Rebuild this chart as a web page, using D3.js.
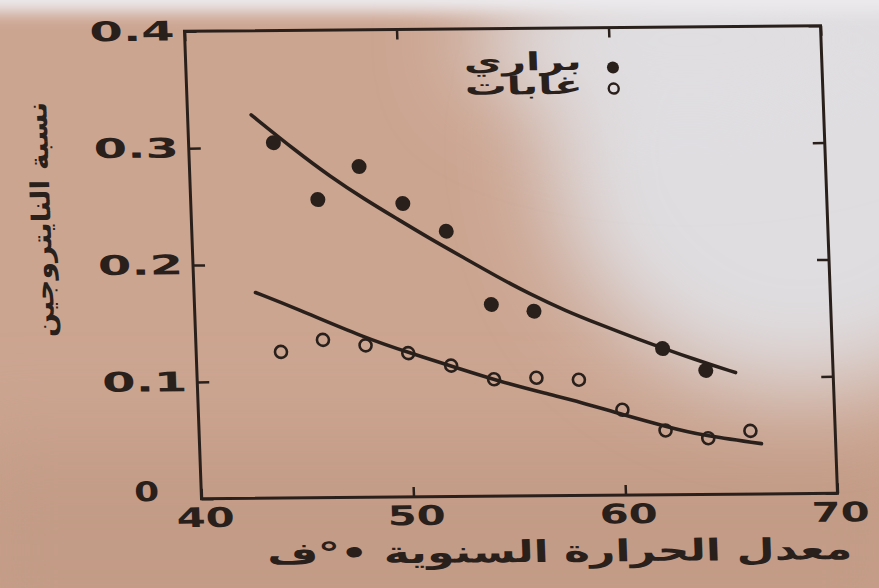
<!DOCTYPE html>
<html>
<head>
<meta charset="utf-8">
<script src="https://cdn.jsdelivr.net/npm/d3@7"></script>
<style>
  html, body { margin: 0; padding: 0; background: #cda895; }
  svg { display: block; }
</style>
</head>
<body>
<svg id="chart" width="879" height="588"></svg>
<script>
// Nitrogen share of soil against mean annual temperature (°F)
const prairieTemp = [44, 46, 48, 50, 52, 54, 56, 62, 64];
const prairieN    = [0.304, 0.255, 0.283, 0.251, 0.227, 0.164, 0.158, 0.125, 0.106];
const forestTemp  = [44, 46, 48, 50, 52, 54, 56, 58, 60, 62, 64, 66];
const forestN     = [0.125, 0.135, 0.130, 0.123, 0.112, 0.100, 0.101, 0.099, 0.073, 0.055, 0.048, 0.054];

// Hand-drawn trend curves
const prairieFitTemp = [43.0, 45.1, 46.6, 48.2, 49.7, 51.2, 52.8, 54.3, 55.8, 57.5, 59.1, 60.6, 63.7, 65.4];
const prairieFitN    = [0.328, 0.296, 0.275, 0.255, 0.238, 0.221, 0.204, 0.188, 0.173, 0.158, 0.146, 0.135, 0.114, 0.104];
const forestFitTemp  = [42.9, 44.8, 47.9, 50.1, 52.6, 54.1, 56.5, 58.0, 60.0, 62.1, 63.6, 66.5];
const forestFitN     = [0.176, 0.162, 0.137, 0.123, 0.108, 0.099, 0.087, 0.080, 0.069, 0.058, 0.051, 0.043];

const xTicks = [40, 50, 60, 70];
const yTicks = [0, 0.1, 0.2, 0.3, 0.4];
const legendLabels = ["براري", "غابات"];
const xTitle = "معدل الحرارة السنوية •°ف";
const yTitle = "نسبة النايتروجين";

const ink = "#2a201b";
const W = 636, H = 467.5;

const svg = d3.select("#chart");
const defs = svg.append("defs");
defs.append("filter").attr("id", "soft").attr("filterUnits", "userSpaceOnUse")
  .attr("x", -300).attr("y", -300).attr("width", 1500).attr("height", 1200)
  .append("feGaussianBlur").attr("stdDeviation", 45);
defs.append("filter").attr("id", "softer").attr("filterUnits", "userSpaceOnUse")
  .attr("x", -300).attr("y", -300).attr("width", 1500).attr("height", 1200)
  .append("feGaussianBlur").attr("stdDeviation", 8);

// paper background
const bg = svg.append("g");
bg.append("rect").attr("width", 879).attr("height", 588).attr("fill", "#cca591");
bg.append("rect").attr("x", -50).attr("y", 440).attr("width", 980).attr("height", 220).attr("fill", "#c39b86").attr("filter", "url(#soft)");
bg.append("ellipse").attr("cx", 800).attr("cy", 150).attr("rx", 250).attr("ry", 240).attr("fill", "#dfdde0").attr("filter", "url(#soft)");
bg.append("ellipse").attr("cx", 690).attr("cy", 40).attr("rx", 220).attr("ry", 80).attr("fill", "#e0dee1").attr("filter", "url(#soft)");
bg.append("rect").attr("x", -50).attr("y", -40).attr("width", 980).attr("height", 52).attr("fill", "#eceaed").attr("filter", "url(#softer)");

const x = d3.scaleLinear().domain([40, 70]).range([0, W]);
const y = d3.scaleLinear().domain([0, 0.4]).range([H, 0]);

// slightly sheared plotting plane
const g = svg.append("g").attr("transform", "matrix(1,-0.00865,0.03636,1,184.5,31.25)");

const tickFont = t => t.attr("font-family", "DejaVu Sans").attr("font-weight", "bold")
  .attr("font-size", 27).attr("fill", ink);

const axisLeftG = g.append("g").call(
  d3.axisLeft(y).tickValues(yTicks).tickSizeInner(-12).tickSizeOuter(0).tickPadding(10)
    .tickFormat(d => d === 0 ? "0" : d3.format(".1f")(d)));
const axisBottomG = g.append("g").attr("transform", `translate(0,${H})`).call(
  d3.axisBottom(x).tickValues(xTicks).tickSizeInner(-10).tickSizeOuter(0).tickPadding(9));
const axisTopG = g.append("g").call(
  d3.axisTop(x).tickValues(xTicks).tickSizeInner(-10).tickSizeOuter(0).tickFormat(""));
const axisRightG = g.append("g").attr("transform", `translate(${W},0)`).call(
  d3.axisRight(y).tickValues(yTicks).tickSizeInner(-12).tickSizeOuter(0).tickFormat(""));

[axisLeftG, axisBottomG, axisTopG, axisRightG].forEach(a => {
  a.select(".domain").remove();
  a.selectAll(".tick line").attr("stroke", ink).attr("stroke-width", 2.5);
  a.selectAll(".tick text").call(tickFont);
});
axisLeftG.selectAll(".tick text")
  .attr("textLength", d => d === 0 ? 25 : 85).attr("lengthAdjust", "spacingAndGlyphs")
  .attr("dx", d => d === 0 ? -32 : 0)
  .attr("dy", d => d === 0 ? "0.05em" : "0.32em");
axisBottomG.selectAll(".tick text")
  .attr("textLength", 58).attr("lengthAdjust", "spacingAndGlyphs")
  .attr("dx", d => d === 40 ? 3 : 2);

// frame
g.append("rect").attr("x", x(40)).attr("y", y(0.4)).attr("width", x(70) - x(40)).attr("height", y(0) - y(0.4))
  .attr("fill", "none").attr("stroke", ink).attr("stroke-width", 3);

// trend curves
const line = d3.line().x(d => x(d[0])).y(d => y(d[1])).curve(d3.curveBasis);
g.append("path").datum(d3.zip(prairieFitTemp, prairieFitN)).attr("d", line)
  .attr("fill", "none").attr("stroke", ink).attr("stroke-width", 3.6).attr("stroke-linecap", "round");
g.append("path").datum(d3.zip(forestFitTemp, forestFitN)).attr("d", line)
  .attr("fill", "none").attr("stroke", ink).attr("stroke-width", 3.6).attr("stroke-linecap", "round");

// observations
g.append("g").selectAll("circle").data(d3.zip(prairieTemp, prairieN)).join("circle")
  .attr("cx", d => x(d[0])).attr("cy", d => y(d[1])).attr("r", 7.5).attr("fill", ink);
g.append("g").selectAll("circle").data(d3.zip(forestTemp, forestN)).join("circle")
  .attr("cx", d => x(d[0])).attr("cy", d => y(d[1])).attr("r", 6).attr("fill", "none")
  .attr("stroke", ink).attr("stroke-width", 2.6);

// legend
const leg = g.append("g").attr("transform", "translate(427,40)");
leg.append("circle").attr("cx", 0).attr("cy", 0).attr("r", 6).attr("fill", ink);
leg.append("circle").attr("cx", 0).attr("cy", 21).attr("r", 5).attr("fill", "none").attr("stroke", ink).attr("stroke-width", 2.4);
leg.selectAll("text").data(legendLabels).join("text")
  .attr("x", -31).attr("y", (d, i) => i * 24 + 2)
  .attr("text-anchor", "start").attr("direction", "rtl")
  .attr("textLength", 118).attr("lengthAdjust", "spacingAndGlyphs")
  .attr("font-family", "DejaVu Sans").attr("font-weight", "bold").attr("font-size", 25).attr("fill", ink)
  .text(d => d);

// axis titles
g.append("text").attr("x", x(55) + 38).attr("y", H + 66)
  .attr("text-anchor", "middle").attr("direction", "rtl")
  .attr("textLength", 585).attr("lengthAdjust", "spacingAndGlyphs")
  .attr("font-family", "DejaVu Sans").attr("font-weight", "bold").attr("font-size", 30).attr("fill", ink)
  .text(xTitle);
g.append("text").attr("transform", `translate(-141,${y(0.24)}) rotate(-90)`)
  .attr("text-anchor", "middle").attr("direction", "rtl")
  .attr("textLength", 235).attr("lengthAdjust", "spacingAndGlyphs")
  .attr("font-family", "DejaVu Sans").attr("font-weight", "bold").attr("font-size", 26).attr("fill", ink)
  .text(yTitle);
</script>
</body>
</html>
